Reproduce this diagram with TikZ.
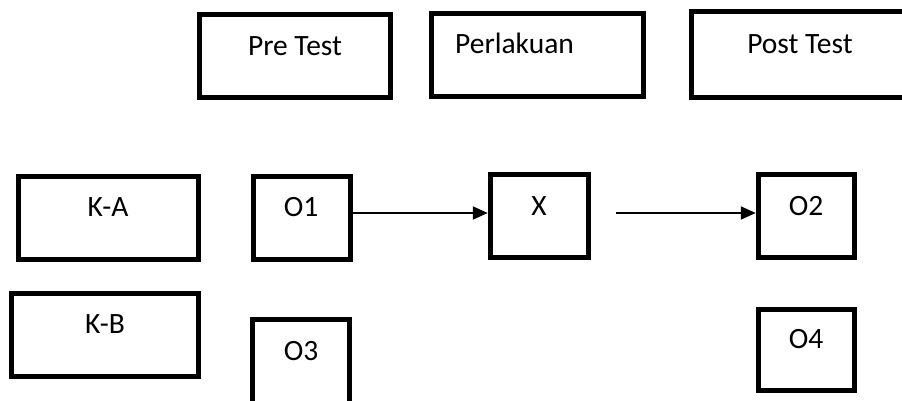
\documentclass[tikz,border=0pt]{standalone}
\usepackage{fontspec}
\setmainfont{Carlito}
\usetikzlibrary{arrows.meta}
\begin{document}
\begin{tikzpicture}[x=1pt,y=-1pt,
  box/.style={draw=black, line width=5.5pt, fill=white, inner sep=0pt},
  lbl/.style={font=\fontsize{29.5}{35}\selectfont, inner sep=0pt, anchor=base},
  flow/.style={draw=black, line width=2pt, -{Triangle[length=15pt,width=13pt]}}]
  \clip (0,0) rectangle (902,400);
  \fill[white] (0,0) rectangle (902,400);

  % heading boxes
  \node[box, minimum width=191pt, minimum height=83pt] (pre)  at (295,56) {};
  \node[box, minimum width=212pt, minimum height=83pt] (perl) at (537.5,55) {};
  \node[box, minimum width=219pt, minimum height=86pt] (post) at (800.75,54.5) {};
  \node[lbl] (preT)  at (295,55) {Pre Test};
  \node[lbl, anchor=base west] (perlT) at (455,53) {Perlakuan};
  \node[lbl] (postT) at (800,53) {Post Test};

  % group A row
  \node[box, minimum width=180pt, minimum height=83pt] (ka) at (108.5,218) {};
  \node[box, minimum width=97pt,  minimum height=83pt] (o1) at (302,218) {};
  \node[box, minimum width=98pt,  minimum height=83pt] (x)  at (539.5,216) {};
  \node[box, minimum width=96pt,  minimum height=83pt] (o2) at (806.5,216) {};
  \node[lbl] (kaT) at (108,216) {K-A};
  \node[lbl] (o1T) at (301,216) {O1};
  \node[lbl] (xT)  at (539,215) {X};
  \node[lbl] (o2T) at (806,215) {O2};

  % group B row
  \node[box, minimum width=187pt, minimum height=83pt] (kb) at (105,335) {};
  \node[box, minimum width=97pt,  minimum height=95pt] (o3) at (301,367) {};
  \node[box, minimum width=96pt,  minimum height=81pt] (o4) at (806.5,350) {};
  \node[lbl] (kbT) at (105,333) {K-B};
  \node[lbl] (o3T) at (301,360) {O3};
  \node[lbl] (o4T) at (806,348) {O4};

  % treatment flow
  \coordinate (lvl) at (0,213);
  \coordinate (gap) at (616,213);
  \draw[flow] (o1.east |- lvl) -- (x.west |- lvl);
  \draw[flow] (gap) -- (o2.west |- lvl);
\end{tikzpicture}
\end{document}
